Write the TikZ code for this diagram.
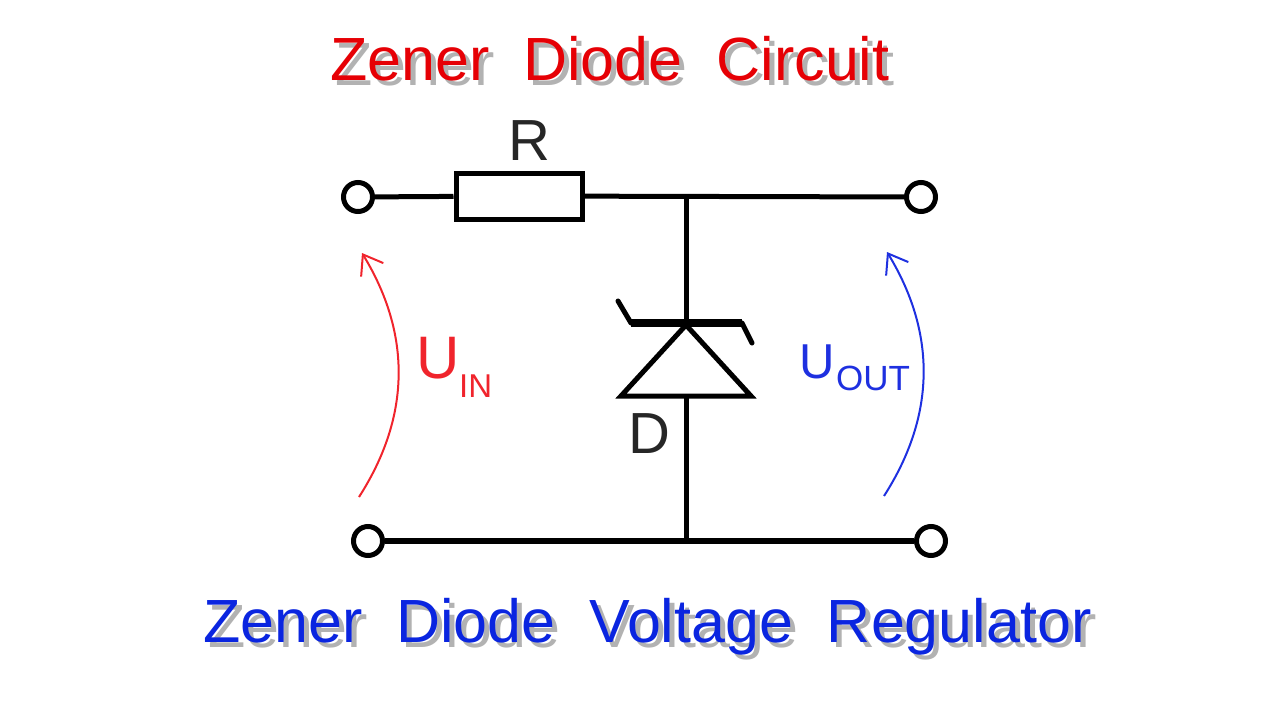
\documentclass[tikz,border=0pt]{standalone}
\usepackage{fontspec}
\setmainfont{Liberation Sans}
\usetikzlibrary{arrows.meta}
\definecolor{titlered}{HTML}{E60005}
\definecolor{titleblue}{HTML}{0A25E0}
\definecolor{labelred}{HTML}{F0242C}
\definecolor{labelblue}{HTML}{1E30E0}
\begin{document}
\begin{tikzpicture}[
  x=1pt, y=-1pt,
  wire/.style={line width=5pt},
  terminal/.style={draw, circle, line width=5pt, minimum size=29pt, inner sep=0pt},
  resbox/.style={draw, line width=5pt, minimum width=126pt, minimum height=46pt, inner sep=0pt},
  title/.style={anchor=base west, inner sep=0pt, font=\fontsize{61pt}{61pt}\selectfont},
  titleshadow/.style={title, text=black, opacity=0.3},
  part/.style={inner sep=0pt, text=black!85, font=\fontsize{58pt}{58pt}\selectfont},
  voltarr/.style={-{Straight Barb[length=18pt, width=26pt, line width=2pt]}, line width=2pt}
]
\useasboundingbox (0,0) rectangle (1280,720);

% Titles, each with a soft shadow behind it
\node[titleshadow] (headshadow) at (335,85) {Zener\ \ Diode\ \ Circuit};
\node[title, text=titlered] (head) at (330,80) {Zener\ \ Diode\ \ Circuit};
\node[titleshadow] (footshadow) at (208,647) {Zener\ \ Diode\ \ Voltage\ \ Regulator};
\node[title, text=titleblue] (foot) at (203,642) {Zener\ \ Diode\ \ Voltage\ \ Regulator};

% Terminals
\node[terminal] (intop) at (358,197) {};
\node[terminal] (outtop) at (921,197) {};
\node[terminal] (inbot) at (368,541) {};
\node[terminal] (outbot) at (931,541) {};

\node[resbox] (res) at (519,196) {};
\node[part] (rlabel) at (529,141) {R};
\node[part] (dlabel) at (649,434) {D};

\coordinate (jtop) at (686,197);
\coordinate (jbot) at (686,541);
\coordinate (apex) at (686,325);
\coordinate (baseleft) at (621,396);
\coordinate (baseright) at (751,396);
\coordinate (barleft) at (631,323);
\coordinate (barright) at (742,323);
\coordinate (tailleft) at (618,301);
\coordinate (tailright) at (752,343);

% Wires
\draw[wire] (intop) -- (res);
\draw[wire] (res) -- (outtop);
\draw[wire, line width=6pt] (inbot) -- (outbot);
\draw[wire] (jtop) -- (apex);
\draw[wire] (686,396) -- (jbot);

% Zener symbol
\draw[wire, line join=miter] (baseleft) -- (apex) -- (baseright) -- cycle;
\draw[line width=8pt] (barleft) -- (barright);
\draw[wire, line cap=round] (tailleft) -- (barleft);
\draw[wire, line cap=round] (barright) -- (tailright);

% Voltage arrows
\coordinate (infrom) at (359,497);
\coordinate (into) at (362,253);
\coordinate (outfrom) at (884,496);
\coordinate (outto) at (887,252);
\draw[voltarr, labelred] (infrom) to[bend right=32] (into);
\draw[voltarr, labelblue] (outfrom) to[bend right=32] (outto);

\node[anchor=base west, inner sep=0pt, text=labelred, font=\fontsize{60pt}{60pt}\selectfont] (uin) at (416,378) {U};
\node[anchor=base west, inner sep=0pt, text=labelred, font=\fontsize{33pt}{33pt}\selectfont] (uinsub) at (459,397) {IN};
\node[anchor=base west, inner sep=0pt, text=labelblue, font=\fontsize{49pt}{49pt}\selectfont] (uout) at (799,378) {U};
\node[anchor=base west, inner sep=0pt, text=labelblue, font=\fontsize{35pt}{35pt}\selectfont] (uoutsub) at (836,390) {OUT};

\end{tikzpicture}
\end{document}
